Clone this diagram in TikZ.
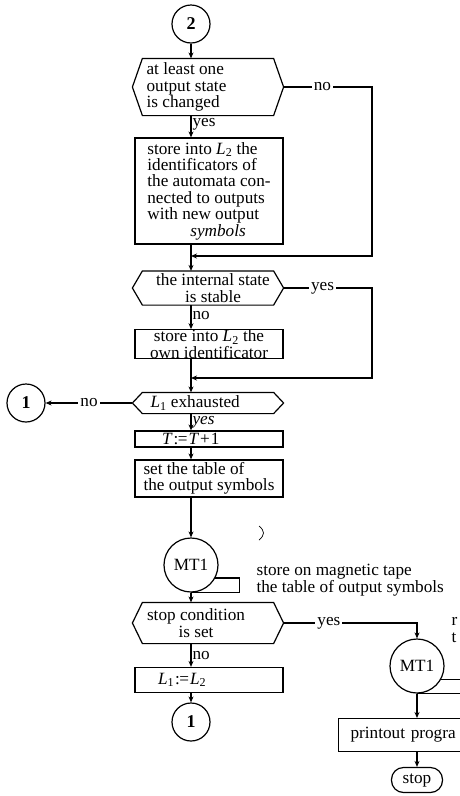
\documentclass[tikz,border=0pt]{standalone}
\usepackage{fontspec}
\setmainfont{Liberation Serif}
\usetikzlibrary{arrows.meta}

% hexagonal decision frame around a (not drawn) rectangle node, with tip coordinates
\newcommand\hexframe[1]{%
  \draw (#1.north west) -- (#1.north east) -- ([xshift=10pt]#1.east)
        -- (#1.south east) -- (#1.south west) -- ([xshift=-10pt]#1.west) -- cycle;
  \coordinate (#1-r) at ([xshift=10pt]#1.east);
  \coordinate (#1-l) at ([xshift=-10pt]#1.west);}

\begin{document}
\begin{tikzpicture}[x=1pt,y=-1pt,line width=1.2pt,
  font=\fontsize{17.2}{16.4}\selectfont,
  arr/.style={-{Stealth[length=6pt,width=5pt]}},
  box/.style={draw,rectangle,inner xsep=6pt,inner ysep=0pt,minimum width=148pt},
  hexa/.style={rectangle,inner sep=0pt,minimum width=130pt},
  conn/.style={draw,circle,inner sep=0pt,minimum size=38pt,font=\fontsize{18}{18}\selectfont\bfseries},
  tape/.style={draw,circle,inner sep=0pt,minimum size=54pt},
  lbl/.style={inner sep=1pt},
  onl/.style={fill=white,inner sep=2pt},
  txt/.style={inner sep=0pt,align=left}]

\useasboundingbox (0,0) rectangle (460,796);
\clip (0,0) rectangle (460,796);

% ---- main column ----
\node[conn] (c2) at (191,24) {2};

\node[hexa,minimum height=56pt] (h1) at (208,87) {};
\hexframe{h1}
\node[txt,anchor=west] (t1) at (146,87) {at least one\\output state\\is changed};

\node[box,minimum height=106pt,align=left] (b1) at (209,191)
  {store into \textit{L}\textsubscript{2} the\\identificators of\\the automata con-\\nected to outputs\\with new output\\\hspace*{43pt}\textit{symbols}};

\node[hexa,minimum height=33pt] (h2) at (208,288) {};
\hexframe{h2}
\node[txt,align=center] (t2) at (213,288) {the internal state\\is stable};

\node[box,minimum height=28pt,align=center] (b2) at (209,344)
  {store into \textit{L}\textsubscript{2} the\\own identificator};

\node[hexa,minimum height=20pt] (h3) at (208,403) {};
\hexframe{h3}
\node[txt,anchor=west] (t3) at (150,403) {\textit{L}\textsubscript{1} exhausted};

\node[conn] (c1a) at (26,403) {1};

\node[box,minimum height=16pt,text width=136pt,align=left] (b3) at (209,439)
  {\hspace*{21pt}\textit{T}\kern1pt:\kern-0.5pt=\kern1pt\textit{T}\kern1pt+\kern1pt1};

\node[box,minimum height=37pt,align=left] (b4) at (209,478.5)
  {set the table of\\the output symbols};

\node[tape] (mt1) at (191,565) {MT1};
\draw (mt1.-28) -- ++(24,0) |- (mt1.south);

\draw[line width=0.7pt] (259,526) .. controls (265,531) and (265,535) .. (259,540);
\node[txt,anchor=west] (note1) at (256,580) {store on magnetic tape\\the table of output symbols};

\node[hexa,minimum height=40pt] (h4) at (208,623) {};
\hexframe{h4}
\node[txt,align=center] (t4) at (196,623) {stop condition\\is set};

\node[box,minimum height=25pt,text width=136pt,align=left] (b5) at (209,680)
  {\hspace*{17pt}\textit{L}\textsubscript{1}\kern1pt:\kern-0.5pt=\kern1pt\textit{L}\textsubscript{2}};

\node[conn] (c1b) at (191,722) {1};

% ---- right branch ----
\node[tape] (mt2) at (417,666) {MT1};
\draw (mt2.-30) -- ++(40,0) |- (mt2.south);

\node[txt,anchor=west] (cut) at (451,630) {r\\t};

\node[box,anchor=north west,minimum width=170pt,text width=146pt,inner xsep=12pt,minimum height=33pt,align=left] (b6) at (338,718)
  {printout progra};

\node[draw,rounded corners=12pt,minimum width=51pt,minimum height=25pt,inner sep=0pt] (stp) at (417,780) {stop};

% ---- connectors ----
\draw[arr] (c2) -- (h1.north -| c2);
\draw[arr] (h1.south -| c2) -- node[lbl,anchor=west,pos=0.4]{yes} (b1.north -| c2);
\coordinate (r1) at (372,256);
\draw[arr] (h1-r) -- node[onl,pos=0.44]{no} (h1-r -| r1) -- (r1) -- (r1 -| c2);
\draw[arr] (b1.south -| c2) -- (h2.north -| c2);
\coordinate (r2) at (372,378);
\draw[arr] (h2-r) -- node[onl,pos=0.44]{yes} (h2-r -| r2) -- (r2) -- (r2 -| c2);
\draw[arr] (h2.south -| c2) -- node[lbl,anchor=west,pos=0.45]{no} (b2.north -| c2);
\draw[arr] (b2.south -| c2) -- (h3.north -| c2);
\draw[arr] (h3-l) -- node[onl,pos=0.5]{no} (c1a);
\draw[arr] (h3.south -| c2) -- node[lbl,anchor=west]{\textit{yes}} (b3.north -| c2);
\draw[arr] (b3.south -| c2) -- (b4.north -| c2);
\draw[arr] (b4.south -| c2) -- (mt1);
\draw[arr] (mt1) -- (h4.north -| c2);
\coordinate (r3) at (417,623);
\draw[arr] (h4-r) -- node[onl,pos=0.34]{yes} (r3) -- (mt2);
\draw[arr] (h4.south -| c2) -- node[lbl,anchor=west]{no} (b5.north -| c2);
\draw[arr] (b5.south -| c2) -- (c1b);
\draw[arr] (mt2) -- (b6.north -| mt2);
\draw[arr] (b6.south -| mt2) -- (stp);
\end{tikzpicture}
\end{document}
